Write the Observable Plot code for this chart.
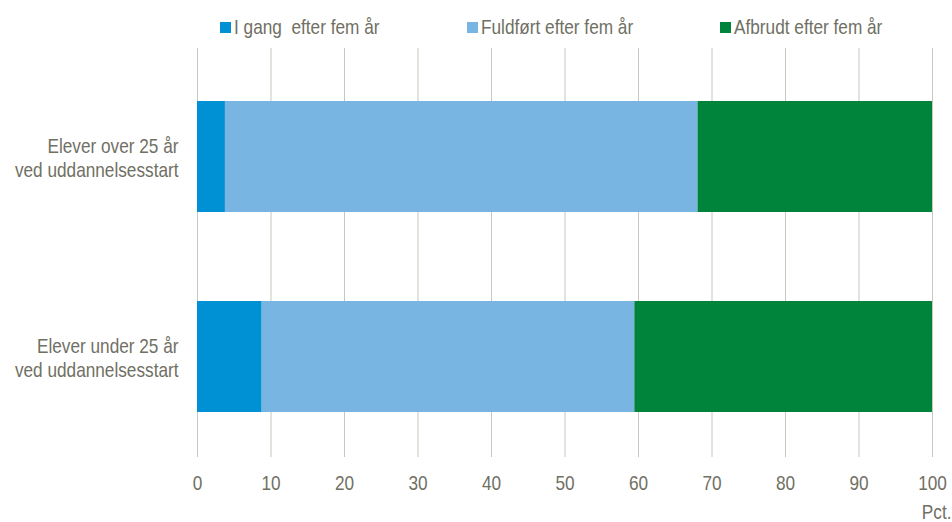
<!DOCTYPE html>
<html>
<head>
<meta charset="utf-8">
<script src="https://cdn.jsdelivr.net/npm/d3@7"></script>
<script src="https://cdn.jsdelivr.net/npm/@observablehq/plot@0.6"></script>
<style>
  html, body { margin: 0; padding: 0; background: #fff; }
  #wrap { position: relative; width: 952px; height: 522px; font-family: "Liberation Sans", Arial, sans-serif; color: #707064; }
  #legend { position: absolute; top: 0; left: 0; width: 952px; height: 50px; }
  .item { position: absolute; top: 14px; display: flex; align-items: center; font-size: 21px; line-height: 26px; white-space: pre; }
  .sw { width: 11px; height: 11px; margin-right: 3px; flex: none; }
  .lt { display: inline-block; transform: scaleX(0.82); transform-origin: left center; }
</style>
</head>
<body>
<div id="wrap"><div id="legend"></div></div>
<script>
const groups = ["Elever over 25 år\nved uddannelsesstart", "Elever under 25 år\nved uddannelsesstart"];
const statuses = ["I gang  efter fem år", "Fuldført efter fem år", "Afbrudt efter fem år"];
const colors = ["#0091d5", "#79b5e3", "#00843c"];
const igang = [3.8, 8.8];
const fuldfort = [64.3, 50.7];
const afbrudt = [31.9, 40.5];
const xTicks = [0, 10, 20, 30, 40, 50, 60, 70, 80, 90, 100];
const unitLabel = "Pct.";
const legendLeft = [220, 467, 720];

const series = [igang, fuldfort, afbrudt];
const data = [];
statuses.forEach((s, i) => groups.forEach((g, j) => data.push({status: s, group: g, value: series[i][j]})));

const textColor = "#707064";
const font = '"Liberation Sans", Arial, sans-serif';

const chart = Plot.plot({
  width: 952,
  height: 522,
  marginLeft: 197,
  marginRight: 20,
  marginTop: 48,
  marginBottom: 65,
  style: {fontFamily: font, fontSize: "21px", color: textColor, background: "transparent", overflow: "visible"},
  x: {domain: [0, 100], ticks: xTicks, axis: null},
  y: {domain: groups, paddingInner: 0.445, paddingOuter: 0.245, align: 0.54, axis: null},
  color: {domain: statuses, range: colors},
  marks: [
    Plot.gridX(xTicks, {stroke: "#c8c8be", strokeOpacity: 1, strokeWidth: 1}),
    Plot.barX(data, {x: "value", y: "group", fill: "status"}),
    Plot.axisX({ticks: xTicks, tickSize: 0, tickPadding: 18, label: null, fill: textColor, fontSize: 21}),
    Plot.axisY({tickSize: 0, tickPadding: 19, label: null, fill: textColor, fontSize: 21, lineHeight: 1.19, textAnchor: "end"}),
    Plot.text([unitLabel], {frameAnchor: "bottom-right", dx: 19, dy: 55, lineAnchor: "middle", textAnchor: "end", fill: textColor, fontSize: 21})
  ]
});
document.getElementById("wrap").prepend(chart);

// narrow the text horizontally around its anchor (Arial Narrow look)
chart.querySelectorAll("text").forEach((t) => {
  const tr = t.getAttribute("transform") || "";
  t.setAttribute("transform", (tr + " scale(0.82,1)").trim());
});

const legend = document.getElementById("legend");
statuses.forEach((s, i) => {
  const it = document.createElement("div");
  it.className = "item";
  it.style.left = legendLeft[i] + "px";
  const sw = document.createElement("span");
  sw.className = "sw";
  sw.style.background = colors[i];
  const t = document.createElement("span");
  t.className = "lt";
  t.textContent = s;
  it.append(sw, t);
  legend.append(it);
});
</script>
</body>
</html>
